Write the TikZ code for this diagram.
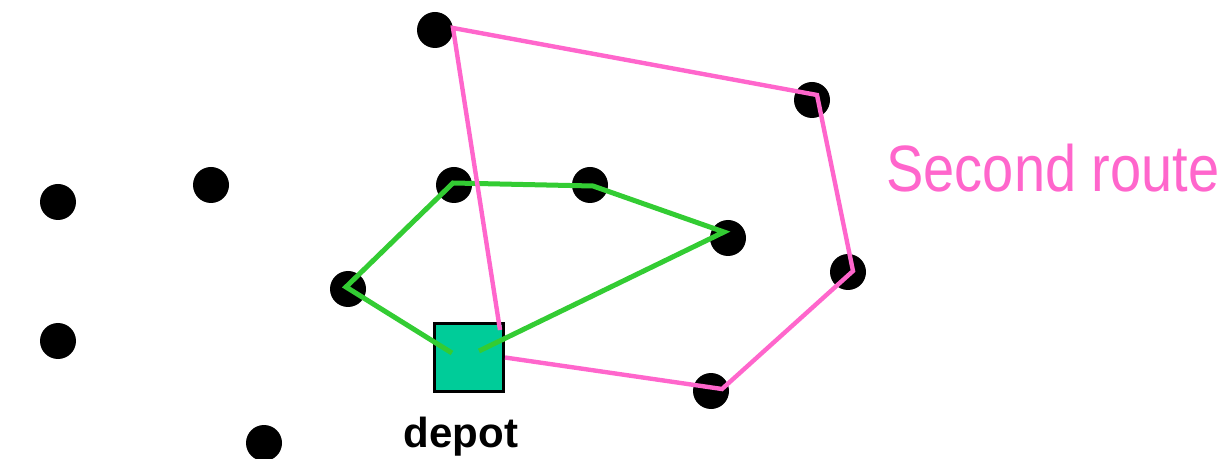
\documentclass[tikz,border=0pt]{standalone}
\usepackage{fontspec}
\setmainfont{Liberation Sans}
\usetikzlibrary{positioning,calc}

\definecolor{depotgreen}{RGB}{0,204,153}
\definecolor{routegreen}{RGB}{51,204,51}
\definecolor{routepink}{RGB}{255,102,204}

\begin{document}
\begin{tikzpicture}
   [x=0.5pt,y=-0.5pt,
    cust/.style={circle,fill=black,inner sep=0pt,minimum size=18pt},
    depotbox/.style={rectangle,draw=black,line width=1.3pt,fill=depotgreen,
     minimum width=34.7pt,minimum height=33.8pt},
    firstroute/.style={routegreen,line width=2.5pt},
    secondroute/.style={routepink,line width=2.2pt}]

\useasboundingbox (0,0) rectangle (1230,459);

\node [cust] (c1) at (435,30) {};
\node [cust] (c2) at (812,100) {};
\node [cust] (c3) at (58,202) {};
\node [cust] (c4) at (211,185) {};
\node [cust] (c5) at (454,185) {};
\node [cust] (c6) at (590,185) {};
\node [cust] (c7) at (728,238) {};
\node [cust] (c8) at (848,272) {};
\node [cust] (c9) at (348,289) {};
\node [cust] (c10) at (58,341) {};
\node [cust] (c11) at (711,391) {};
\node [cust] (c12) at (264,443) {};

\node [depotbox] (depot) at (469,357.5) {};
\node [below=12pt of depot, xshift=-4pt, inner sep=0pt, font=\bfseries\fontsize{21}{25}\selectfont] (dlabel) {depot};

\draw [firstroute] ($(depot)+(-17,-4.5)$) -- ($(c9)+(-2,-2)$) -- ($(c5)+(-1,-2)$)
  -- ($(c6)+(3,1)$) -- ($(c7)+(-4,-6)$) -- ($(depot)+(10,-6.5)$);
\draw [secondroute] ($(depot)+(31,-27.5)$) -- ($(c1)+(18,-2)$) -- ($(c2)+(5,-5)$)
  -- ($(c8)+(5,-1)$) -- ($(c11)+(11,-2)$) -- (depot.east);

\node [anchor=base west, inner sep=0pt, text=routepink, font=\fontsize{28}{34}\selectfont]
  (rlabel) at (886,192) {\scalebox{1}[1.17]{Second route}};
\end{tikzpicture}
\end{document}
